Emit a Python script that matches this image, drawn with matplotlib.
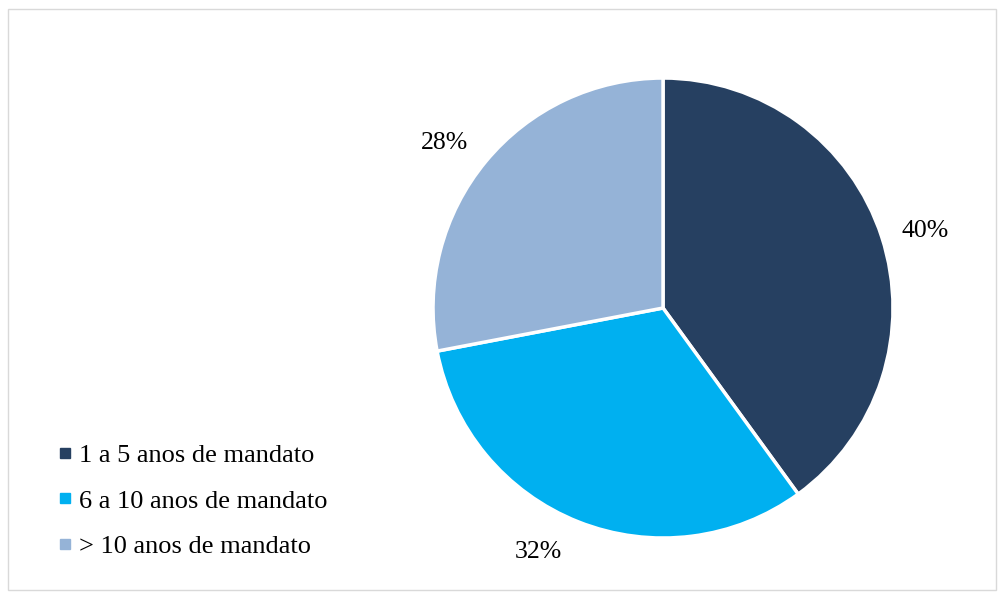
import numpy as np
import matplotlib.pyplot as plt
from matplotlib.patches import Rectangle
from matplotlib.lines import Line2D

categories = ["1 a 5 anos de mandato", "6 a 10 anos de mandato", "> 10 anos de mandato"]
shares = [40, 32, 28]
colors = ["#264061", "#00B0F0", "#95B3D7"]

plt.rcParams['font.family'] = ['Liberation Serif', 'DejaVu Serif']

fig = plt.figure(figsize=(9.98, 5.92), dpi=100)
fig.patches.append(Rectangle((0.008, 0.004), 0.99, 0.98, transform=fig.transFigure,
                             fill=False, edgecolor='#d9d9d9', linewidth=1))

ax = fig.add_axes([0.4339, 0.0912, 0.4609, 0.777])
wedges, texts, autotexts = ax.pie(shares, colors=colors, startangle=90, counterclock=False,
                                  autopct='%1.0f%%', pctdistance=1.19,
                                  wedgeprops=dict(edgecolor='white', linewidth=2.5),
                                  textprops=dict(fontsize=18.5, color='black'))
# excel "best fit" puts the labels a bit off the wedge middle
shift = [-1.6, -5.5, 2.6]
for w, t, d in zip(wedges, autotexts, shift):
    ang = np.deg2rad((w.theta1 + w.theta2) / 2 + d)
    t.set_position((1.19 * np.cos(ang), 1.19 * np.sin(ang)))
ax.set_xlim(-1, 1)
ax.set_ylim(-1, 1)
ax.set_aspect('equal')

handles = [Line2D([], [], marker='s', linestyle='none', markersize=7.5,
                  markerfacecolor=c, markeredgecolor=c) for c in colors]
fig.legend(handles, categories, loc='lower left', bbox_to_anchor=(0.028, 0.017),
           frameon=False, fontsize=19, handletextpad=0.05, labelspacing=0.84,
           handlelength=1.0)

fig.savefig("out.png", dpi=100)
